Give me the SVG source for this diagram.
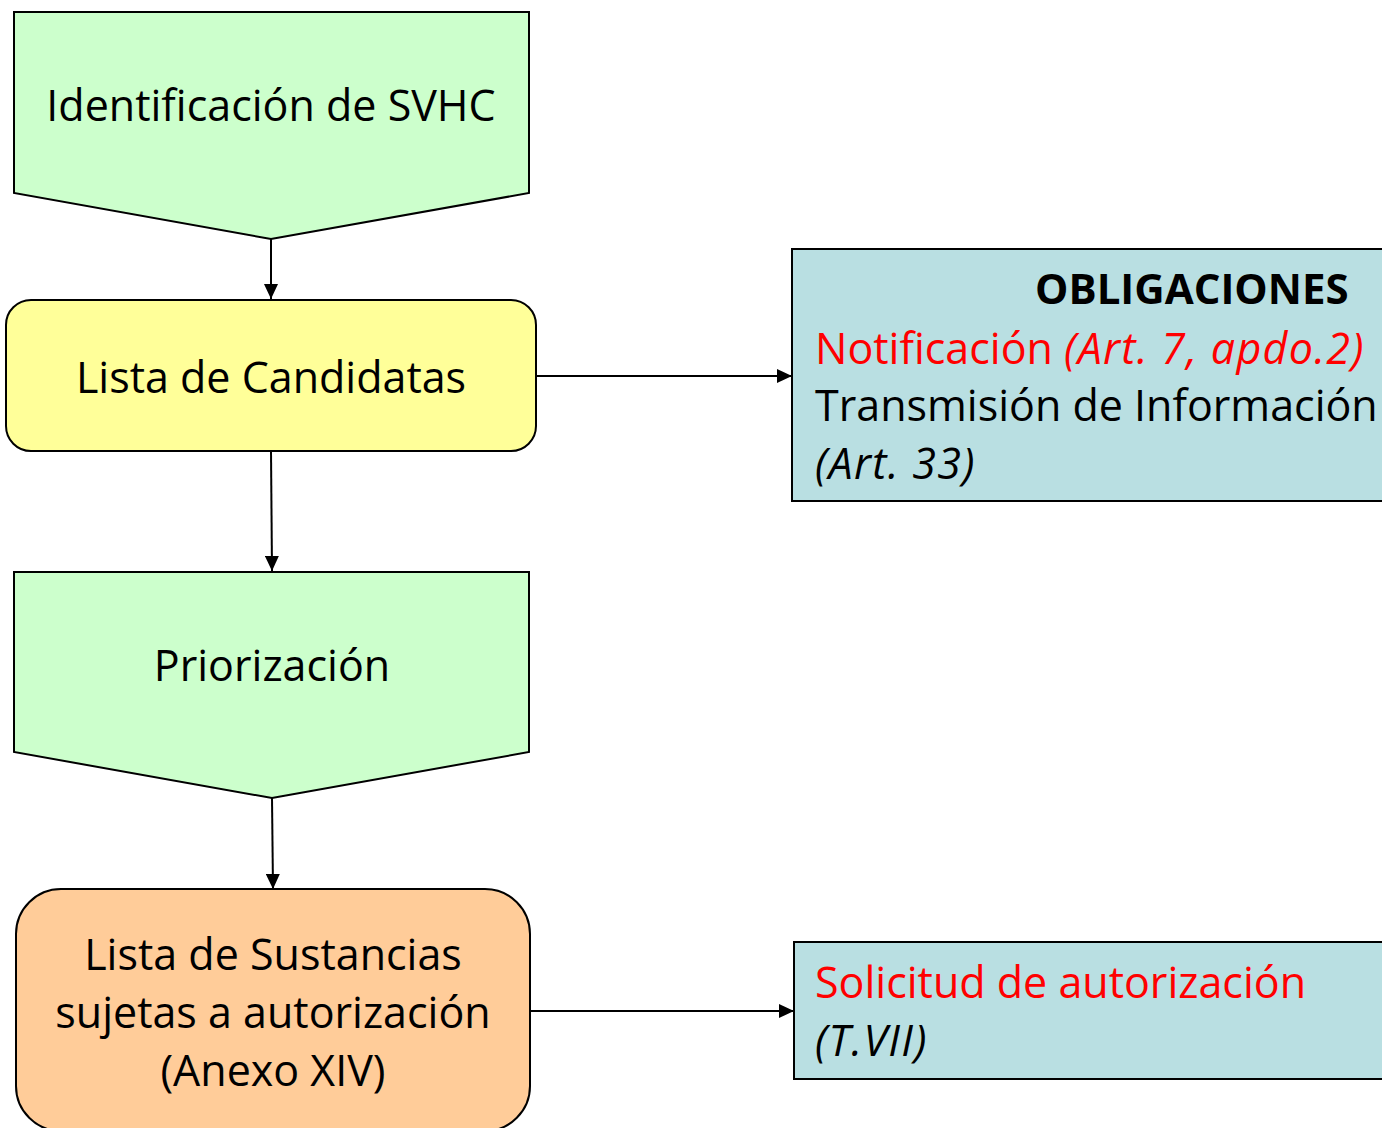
<svg xmlns="http://www.w3.org/2000/svg" width="1382" height="1128" viewBox="0 0 1382 1128">
<style>
.n{stroke:#000;stroke-width:2}
.t{font-family:"Open Sans","Noto Sans",sans-serif;font-size:43px;fill:#000}
.c{text-anchor:middle}
.r{fill:#ff0000}
.i{font-style:italic;letter-spacing:1.3px}
.b{font-weight:bold;font-size:42px}
.e{fill:none;stroke:#000;stroke-width:2}
</style>
<defs>
<marker id="a" markerWidth="15" markerHeight="14" refX="15" refY="7" orient="auto" markerUnits="userSpaceOnUse" viewBox="0 0 15 14"><path d="M0,0L15,7L0,14Z" fill="#000"/></marker>
</defs>
<rect width="1382" height="1128" fill="#fff"/>
<g id="connectors">
<path class="e" d="M271,239L271,299" marker-end="url(#a)"/>
<path class="e" d="M271,451L272,571" marker-end="url(#a)"/>
<path class="e" d="M272,798L273,889" marker-end="url(#a)"/>
<path class="e" d="M536,376L792,376" marker-end="url(#a)"/>
<path class="e" d="M530,1011L794,1011" marker-end="url(#a)"/>
</g>
<g id="n1">
<path class="n" fill="#ccffcc" d="M14,12H529V193L271,239L14,193Z"/>
<text class="t c" x="271" y="121">Identificación de SVHC</text>
</g>
<g id="n2">
<rect class="n" fill="#ffff99" x="6" y="300" width="530" height="151" rx="25"/>
<text class="t c" x="271" y="393">Lista de Candidatas</text>
</g>
<g id="n3">
<path class="n" fill="#ccffcc" d="M14,572H529V752L272,798L14,752Z"/>
<text class="t c" x="272" y="681">Priorización</text>
</g>
<g id="n4">
<rect class="n" fill="#ffcc99" x="16" y="889" width="514" height="242" rx="45"/>
<text class="t c" x="273" y="970">Lista de Sustancias</text>
<text class="t c" x="273" y="1028">sujetas a autorización</text>
<text class="t c" x="273" y="1086">(Anexo XIV)</text>
</g>
<g id="n5">
<rect class="n" fill="#b9dfe2" x="792" y="249" width="600" height="252"/>
<text class="t b" x="1035" y="304">OBLIGACIONES</text>
<text class="t r" x="815" y="364">Notificación <tspan class="i">(Art. 7, apdo.2)</tspan></text>
<text class="t" x="815" y="421">Transmisión de Información</text>
<text class="t i" x="815" y="479">(Art. 33)</text>
</g>
<g id="n6">
<rect class="n" fill="#b9dfe2" x="794" y="942" width="600" height="137"/>
<text class="t r" x="815" y="998">Solicitud de autorización</text>
<text class="t i" x="815" y="1056">(T.VII)</text>
</g>
</svg>
